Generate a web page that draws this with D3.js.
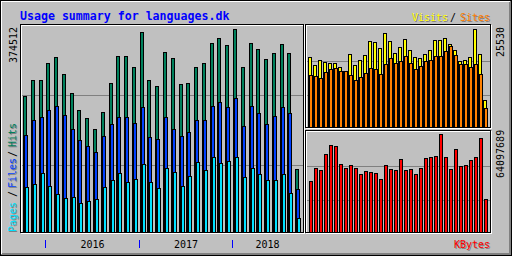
<!DOCTYPE html>
<html><head><meta charset="utf-8">
<script src="https://cdn.jsdelivr.net/npm/d3@7"></script>
<style>html,body{margin:0;padding:0;background:#c0c0c0;overflow:hidden}svg{display:block}</style>
</head><body>
<svg id="c" width="512" height="256"></svg>
<script>
// ---------- data ----------
const months = ["2015-10","2015-11","2015-12",
  "2016-01","2016-02","2016-03","2016-04","2016-05","2016-06","2016-07","2016-08","2016-09","2016-10","2016-11","2016-12",
  "2017-01","2017-02","2017-03","2017-04","2017-05","2017-06","2017-07","2017-08","2017-09","2017-10","2017-11","2017-12",
  "2018-01","2018-02","2018-03","2018-04","2018-05","2018-06","2018-07","2018-08","2018-09"];
const years = ["2016","2017","2018"];
const hits = [250900,280400,280400,312300,322900,291500,256400,225100,210300,190000,221400,274900,
  324700,324700,304400,369000,280400,269400,332100,321000,273000,274900,304400,311800,
  348700,357900,345000,374512,304400,348700,337600,319200,330200,346800,330200,116200];
const files = [178950,206600,212200,225100,232500,215900,190000,169700,158700,147600,177100,199200,
  212200,212200,201100,230600,175300,171600,212200,190000,177100,184500,206600,206600,
  232500,239800,230600,247200,195600,232500,219500,199200,214000,230600,219500,79300];
const pages = [82500,88600,108800,84300,70100,62700,64600,53500,57200,60900,83000,95900,
  108800,92200,97800,125500,92200,81200,118100,110700,84900,103300,129100,114400,
  138400,127300,131000,138400,101500,118100,107000,95900,95900,107000,72000,25800];
const visits = [18235,16151,17454,16933,16672,16672,15630,14588,19017,16151,17454,18756,
  22403,22143,20580,24487,22403,19277,20840,22924,20059,18235,17975,19017,
  20059,22664,22664,23185,21500,20059,17193,17454,18235,25530,19017,7034];
const sites = [13546,13286,12765,14328,15109,15370,14588,14588,13546,12244,13025,14067,
  15370,15109,13807,16412,17975,16672,17193,18496,16672,15109,15891,17193,
  17454,18496,18496,19798,21200,18756,16412,16412,15630,16412,13807,4950];
const kbytes = [33667452,42084315,40789413,51148629,56975688,56328237,44674119,42084315,44026668,42084315,38199609,40141962,
  39494511,38847060,34962354,44026668,41436864,40789413,47911374,40789413,41436864,38199609,42084315,48558825,
  49206276,49853727,64097689,49206276,41436864,54385884,43379217,44026668,47263923,49206276,61507845,21365883];
const gridFractions = [0.33, 0.675];
const title = "Usage summary for languages.dk";

// ---------- styles ----------
const C = {bg:"#c0c0c0", dk:"#808080", hit:"#00805c", file:"#0040ff", page:"#00e0ff",
  visit:"#ffff00", site:"#ff8000", kb:"#ff0000", blue:"#0000ff"};
const FONT = "'DejaVu Sans Mono', monospace";

const svg = d3.select("#c");
svg.attr("shape-rendering","crispEdges");
svg.append("rect").attr("width",512).attr("height",256).attr("fill",C.bg);

// outer border
function hline(x1,x2,y,col){svg.append("line").attr("x1",x1).attr("x2",x2+1).attr("y1",y+0.5).attr("y2",y+0.5).attr("stroke",col);}
function vline(x,y1,y2,col){svg.append("line").attr("x1",x+0.5).attr("x2",x+0.5).attr("y1",y1).attr("y2",y2+1).attr("stroke",col);}
hline(0,511,0,"#000"); vline(0,0,255,"#000"); hline(0,511,255,"#000"); vline(511,0,255,"#000");
hline(1,509,1,"#fff"); vline(1,1,253,"#fff");
hline(1,510,254,C.dk); vline(510,1,254,C.dk);
hline(2,509,253,C.dk); vline(509,2,254,C.dk);

function frame(x1,y1,x2,y2){
  svg.append("rect").attr("x",x1+1.5).attr("y",y1+1.5).attr("width",x2-x1).attr("height",y2-y1)
    .attr("fill","none").attr("stroke","#fff");
  svg.append("rect").attr("x",x1+0.5).attr("y",y1+0.5).attr("width",x2-x1).attr("height",y2-y1)
    .attr("fill","none").attr("stroke","#000");
}
frame(20,24,303,232);
frame(305,24,490,127);
frame(305,130,490,232);

// ---------- scales ----------
const xMain = d3.scaleBand().domain(months).range([23, 303]);
const xSide = d3.scaleBand().domain(months).range([308, 488]);
const yMain = d3.scaleLinear().domain([0, d3.max(hits)]).range([232, 29]);
const yVis = d3.scaleLinear().domain([0, d3.max(visits)]).range([127, 29]);
const yKb = d3.scaleLinear().domain([0, d3.max(kbytes)]).range([232, 134]);

// grid lines
function grids(scale, maxv, x1, x2){
  gridFractions.forEach(f=>{
    const y = Math.round(scale(maxv*f));
    hline(x1,x2,y,C.dk);
  });
}
grids(yMain, d3.max(hits), 22, 302);
grids(yVis, d3.max(visits), 307, 489);
grids(yKb, d3.max(kbytes), 307, 489);

// bars
function bars(data, xs, ys, base, off, w, col, cls){
  svg.append("g").selectAll("rect."+cls).data(data).join("rect")
    .attr("class",cls)
    .attr("x",(d,i)=>Math.round(xs(months[i]))+off+0.5)
    .attr("y",d=>Math.round(ys(d))+0.5)
    .attr("width",w)
    .attr("height",d=>base-Math.round(ys(d)))
    .attr("fill",col).attr("stroke","#000");
}
bars(hits, xMain, yMain, 232, 0, 3, C.hit, "h");
bars(files, xMain, yMain, 232, 1, 3, C.file, "f");
bars(pages, xMain, yMain, 232, 2, 3, C.page, "p");
bars(visits, xSide, yVis, 127, 0, 3, C.visit, "v");
bars(sites, xSide, yVis, 127, 1, 3, C.site, "s");
bars(kbytes, xSide, yKb, 232, 1, 3, C.kb, "k");

// ---------- text ----------
function txt(x,y,s,col,size,opts={}){
  const t = svg.append("text").attr("x",x).attr("y",y).text(s).attr("fill",col)
    .attr("font-family",FONT).attr("font-size",size);
  if(opts.bold) t.attr("font-weight","bold");
  if(opts.anchor) t.attr("text-anchor",opts.anchor);
  if(opts.rot) t.attr("transform",`rotate(-90 ${x} ${y})`);
  return t;
}
txt(20,19.5,title,C.blue,11.6,{bold:true});

// top right legend with shadow
function shadowTxt(x,y,s,col,opts={}){ txt(x+1,y+1,s,C.dk,10,opts); txt(x,y,s,col,10,opts); }
shadowTxt(490,21,"Sites",C.site,{anchor:"end"});
txt(450,21,"/","#000",10);
shadowTxt(412,21,"Visits",C.visit);
shadowTxt(490,248,"KBytes",C.kb,{anchor:"end"});

// left legend (rotated)
shadowTxt(15.5,232,"Pages",C.page,{rot:true});
txt(15.5,197,"/","#000",10,{rot:true});
shadowTxt(15.5,188,"Files",C.file,{rot:true});
txt(15.5,157,"/","#000",10,{rot:true});
shadowTxt(15.5,147,"Hits",C.hit,{rot:true});

// max labels
txt(17,63,String(d3.max(hits)),"#000",10,{rot:true});
txt(504,57,String(d3.max(visits)),"#000",10,{rot:true});
txt(504,178,String(d3.max(kbytes)),"#000",10,{rot:true});

// year ticks and labels
years.forEach(y=>{
  const idx = months.findIndex(m=>m.startsWith(y));
  const idxLast = months.map(m=>m.slice(0,4)).lastIndexOf(y);
  const tx = Math.round(xMain(months[idx]))-1;
  vline(tx,240,247,C.blue);
  const cx = (xMain(months[idx]) + xMain(months[idxLast]) + 4)/2 + 1.5;
  txt(cx,247.5,y,"#000",10,{anchor:"middle"});
});
</script>
</body></html>
